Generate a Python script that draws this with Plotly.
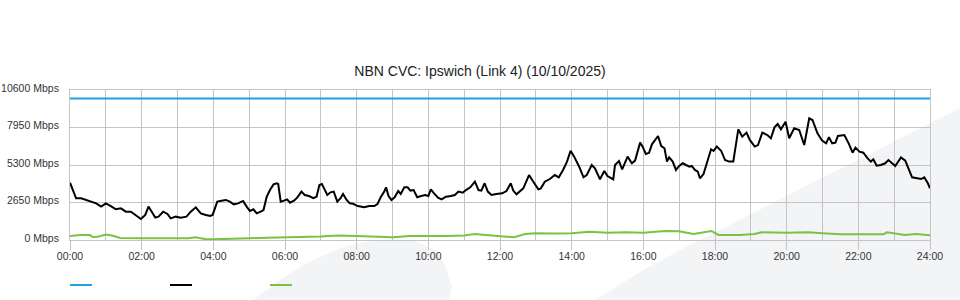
import plotly.graph_objects as go

# ---------------- data ----------------
title_text = "NBN CVC: Ipswich (Link 4) (10/10/2025)"

x_tick_hours = [0, 2, 4, 6, 8, 10, 12, 14, 16, 18, 20, 22, 24]
x_tick_labels = ["00:00", "02:00", "04:00", "06:00", "08:00", "10:00", "12:00",
                 "14:00", "16:00", "18:00", "20:00", "22:00", "24:00"]
y_tick_values = [0, 2650, 5300, 7950, 10600]
y_tick_labels = ["0 Mbps", "2650 Mbps", "5300 Mbps", "7950 Mbps", "10600 Mbps"]

capacity_hours = [0, 24]
capacity_mbps = [10000, 10000]

traffic_hours = [
    0.00, 0.17, 0.31, 0.45, 0.59, 0.73, 0.87, 1.00, 1.14, 1.28, 1.42, 1.56, 1.70, 1.84, 1.98,
    2.10, 2.19, 2.28, 2.38, 2.47, 2.60, 2.72, 2.81, 2.95, 3.09, 3.25, 3.37, 3.51, 3.65, 3.79,
    3.91, 3.98, 4.05, 4.11, 4.23, 4.35, 4.46, 4.57, 4.69, 4.83, 4.93, 5.02, 5.12, 5.21, 5.32,
    5.40, 5.49, 5.58, 5.68, 5.77, 5.81, 5.88, 5.97, 6.06, 6.14, 6.25, 6.34, 6.46, 6.55, 6.67,
    6.79, 6.88, 6.96, 7.03, 7.09, 7.18, 7.27, 7.36, 7.46, 7.55, 7.62, 7.72, 7.81, 7.90, 8.03,
    8.21, 8.35, 8.49, 8.58, 8.67, 8.77, 8.82, 8.89, 8.97, 9.06, 9.16, 9.23, 9.33, 9.42, 9.50,
    9.59, 9.69, 9.80, 9.91, 10.00, 10.07, 10.16, 10.27, 10.37, 10.49, 10.63, 10.74, 10.84, 10.96,
    11.05, 11.17, 11.30, 11.40, 11.48, 11.57, 11.66, 11.76, 11.90, 12.06, 12.18, 12.30, 12.37,
    12.46, 12.65, 12.81, 12.93, 13.07, 13.14, 13.25, 13.39, 13.53, 13.64, 13.76, 13.87, 13.97,
    14.07, 14.21, 14.33, 14.42, 14.56, 14.65, 14.79, 14.91, 15.00, 15.16, 15.21, 15.32, 15.41,
    15.56, 15.68, 15.77, 15.91, 15.98, 16.07, 16.16, 16.24, 16.41, 16.50, 16.59, 16.66, 16.72,
    16.82, 16.91, 17.00, 17.10, 17.19, 17.29, 17.35, 17.44, 17.52, 17.58, 17.68, 17.77, 17.89,
    17.96, 18.05, 18.17, 18.28, 18.39, 18.51, 18.65, 18.76, 18.88, 18.97, 19.11, 19.20, 19.32,
    19.46, 19.56, 19.66, 19.75, 19.84, 19.97, 20.07, 20.21, 20.35, 20.49, 20.63, 20.72, 20.86,
    20.99, 21.10, 21.18, 21.27, 21.36, 21.43, 21.61, 21.73, 21.84, 21.92, 22.03, 22.14, 22.26,
    22.35, 22.42, 22.51, 22.63, 22.75, 22.84, 22.93, 23.03, 23.19, 23.31, 23.50, 23.63, 23.75,
    23.84, 23.94, 24.00,
]
traffic_mbps = [
    4050, 2950, 2950, 2830, 2760, 2590, 2360, 2590, 2400, 2170, 2240, 2000, 2000, 1720, 1480,
    1770, 2360, 2000, 1580, 1650, 2000, 1840, 1530, 1650, 1580, 1650, 2000, 2310, 1880, 1770,
    1700, 1770, 2240, 2710, 2780, 2830, 2710, 2520, 2590, 2760, 2360, 2050, 2170, 1880, 2000,
    2120, 3060, 3530, 3930, 4010, 3960, 2710, 2780, 2870, 2640, 2780, 2990, 3420, 3180, 3110,
    2950, 3060, 3890, 3960, 3650, 3180, 3370, 3420, 2710, 2950, 3250, 2830, 2590, 2560, 2400,
    2310, 2400, 2400, 2540, 3020, 3420, 3720, 3110, 2830, 3020, 3460, 3250, 3720, 3720, 3490,
    3530, 3020, 3110, 3180, 3110, 3580, 3300, 2990, 2870, 3060, 3110, 3180, 3420, 3340,
    3530, 3720, 4120, 3530, 3490, 4010, 3420, 3180, 3250, 3300, 3460, 4010, 3490,
    3230, 3650, 4590, 4120, 3580, 3650, 4120, 4310, 4590, 4430, 4950, 5540, 6310,
    5890, 5180, 4430, 4590, 5300, 5060, 4290, 4880, 4520, 4290, 5300, 5580, 4990,
    5890, 5420, 5610, 6880, 6600, 6080, 6160, 6760, 7350, 6640, 6480, 5540, 5840,
    5540, 4950, 5230, 5420, 5300, 5180, 5230, 4950, 4830, 4360, 4660, 5370, 6410,
    6290, 6600, 6310, 5650, 5540, 5540, 7820, 7300, 7590, 7070, 6600, 6710, 7590,
    7420, 7190, 7960, 8200, 7820, 8360, 7190, 7890, 7770, 6710, 8600, 8480, 7540,
    7020, 6830, 7260, 6830, 6880, 7350, 7420, 6830, 6170, 6530, 6240, 6170, 5770,
    5540, 5700, 5250, 5300, 5420, 5650, 5420, 5230, 5840, 5610, 4430, 4360, 4310,
    4430, 4010, 3650,
]

upload_hours = [
    0.0, 0.3, 0.55, 0.65, 0.8, 1.0, 1.2, 1.4, 2.0, 2.5, 3.0, 3.3, 3.5, 3.8, 4.0, 4.5, 5.0,
    5.5, 6.0, 6.3, 6.7, 7.0, 7.2, 7.5, 8.0, 8.4, 9.0, 9.5, 10.0, 10.5, 11.0, 11.3, 11.6,
    12.0, 12.4, 12.7, 13.0, 13.5, 14.0, 14.5, 15.0, 15.5, 16.0, 16.6, 17.0, 17.4, 17.9,
    18.1, 18.7, 19.1, 19.3, 20.0, 20.6, 21.0, 21.5, 22.0, 22.7, 22.8, 23.1, 23.3, 23.6,
    23.8, 24.0,
]
upload_mbps = [
    280, 350, 350, 190, 240, 380, 300, 140, 120, 120, 120, 120, 190, 50, 50, 110, 120,
    160, 180, 170, 230, 240, 280, 320, 280, 240, 190, 280, 270, 290, 320, 420, 360,
    300, 190, 420, 470, 460, 480, 580, 520, 540, 520, 640, 620, 430, 640,
    360, 360, 420, 540, 520, 540, 470, 400, 400, 400, 540, 420, 360, 420,
    360, 340,
]

# ---------------- styling helpers ----------------
W, H = 960, 300
ML, MR, MT, MB = 70, 30, 90, 60
PW, PH = W - ML - MR, H - MT - MB

BLUE = "#1fa2df"
BLACK = "#000000"
GREEN = "#7cc242"
GRID = "#c4c4c4"
WM = "#f3f4f6"
FONT = "Liberation Sans, Arial, sans-serif"


def px(x, y):
    """pixel -> paper coordinates (for decorations only)"""
    return (x - ML) / PW, (MT + PH - y) / PH


def path(points):
    parts = []
    for i, (x, y) in enumerate(points):
        a, b = px(x, y)
        parts.append(("M" if i == 0 else "L") + f"{a:.4f},{b:.4f}")
    return " ".join(parts) + " Z"


fig = go.Figure()
fig.add_trace(go.Scatter(x=capacity_hours, y=capacity_mbps, mode="lines",
                         line=dict(color=BLUE, width=2), showlegend=False))
fig.add_trace(go.Scatter(x=upload_hours, y=upload_mbps, mode="lines",
                         line=dict(color=GREEN, width=2), showlegend=False))
fig.add_trace(go.Scatter(x=traffic_hours, y=traffic_mbps, mode="lines",
                         line=dict(color=BLACK, width=2), showlegend=False))

shapes = []
# watermark (background logo)
shapes.append(dict(type="path", xref="paper", yref="paper", layer="below",
                   path=path([(595, 300), (640, 272), (680, 250), (820, 179), (960, 108), (960, 300)]),
                   fillcolor=WM, line=dict(width=0)))
shapes.append(dict(type="path", xref="paper", yref="paper", layer="below",
                   path=path([(253, 300), (280, 280), (305, 264), (340, 248), (365, 242), (390, 239),
                              (415, 241), (435, 250), (445, 265), (452, 287), (449, 300)]),
                   fillcolor=WM, line=dict(width=0)))
# legend swatches (no labels)
for x0, c in [(70, BLUE), (170, BLACK), (270, GREEN)]:
    a0, b0 = px(x0, 285)
    a1, _ = px(x0 + 22, 285)
    shapes.append(dict(type="line", xref="paper", yref="paper", x0=a0, x1=a1, y0=b0, y1=b0,
                       line=dict(color=c, width=2)))

fig.update_layout(
    width=W, height=H,
    margin=dict(l=ML, r=MR, t=MT, b=MB, pad=0, autoexpand=False),
    paper_bgcolor="white",
    plot_bgcolor="rgba(0,0,0,0)",
    font=dict(family=FONT, size=10.5, color="#333333"),
    title=dict(text=title_text, x=0.5, xanchor="center", xref="container",
               y=1 - 71 / H, yref="container", yanchor="middle",
               font=dict(family=FONT, size=14, color="#222222")),
    showlegend=False,
    shapes=shapes,
    xaxis=dict(range=[0, 24], tickvals=x_tick_hours, ticktext=x_tick_labels,
               showgrid=True, gridcolor=GRID, gridwidth=1, zeroline=False,
               showline=True, linecolor=GRID, linewidth=1, mirror=True,
               ticks="outside", ticklen=9, tickcolor=GRID, tickwidth=1, automargin=False,
               ticklabelstandoff=-3,
               minor=dict(dtick=1, tick0=0, showgrid=True, gridcolor=GRID, gridwidth=1, ticks=""),
               tickfont=dict(family=FONT, size=10.5, color="#333333"), fixedrange=True),
    yaxis=dict(range=[0, 10600], tickvals=y_tick_values, ticktext=y_tick_labels,
               showgrid=True, gridcolor=GRID, gridwidth=1, zeroline=False,
               showline=True, linecolor=GRID, linewidth=1, mirror=True, automargin=False,
               ticks="outside", ticklen=8, tickcolor="rgba(0,0,0,0)", ticklabelshift=-2,
               tickfont=dict(family=FONT, size=10.5, color="#333333"), fixedrange=True),
)

fig.write_html("out.html")
